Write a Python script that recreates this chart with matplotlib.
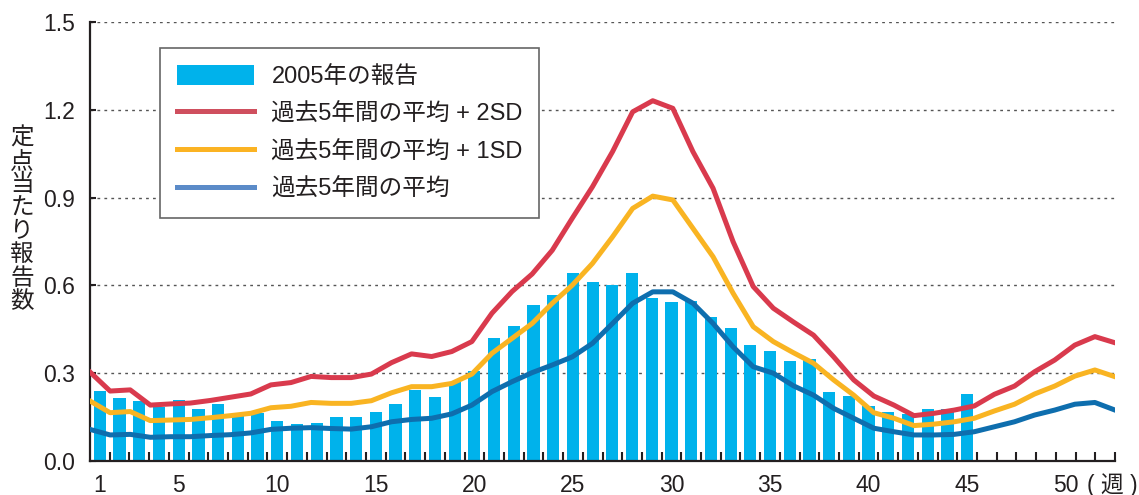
import matplotlib
matplotlib.use('Agg')
import matplotlib.pyplot as plt
from matplotlib.patches import Patch
from matplotlib.lines import Line2D
import numpy as np

plt.rcParams['font.family'] = ['Liberation Sans', 'Noto Sans CJK JP']

# ---- data ----
report_weeks = list(range(1, 46))
report_2005 = [0.239, 0.215, 0.205, 0.186, 0.208, 0.178, 0.195, 0.155, 0.165, 0.137,
               0.126, 0.130, 0.150, 0.150, 0.167, 0.195, 0.244, 0.219, 0.270, 0.307,
               0.420, 0.461, 0.533, 0.567, 0.642, 0.611, 0.601, 0.642, 0.557, 0.543,
               0.547, 0.492, 0.454, 0.396, 0.376, 0.342, 0.348, 0.236, 0.223, 0.188,
               0.167, 0.162, 0.178, 0.178, 0.229]

avg_weeks = list(range(1, 53))
avg_plus2sd = [0.304, 0.239, 0.243, 0.191, 0.195, 0.198, 0.207, 0.218, 0.229, 0.260,
               0.268, 0.289, 0.285, 0.285, 0.297, 0.336, 0.366, 0.357, 0.374, 0.408,
               0.505, 0.579, 0.639, 0.720, 0.830, 0.937, 1.057, 1.193, 1.231, 1.205,
               1.057, 0.932, 0.749, 0.596, 0.522, 0.475, 0.430, 0.356, 0.277, 0.222,
               0.191, 0.155, 0.163, 0.174, 0.188, 0.228, 0.256, 0.305, 0.345, 0.396,
               0.425, 0.404]
avg_plus1sd = [0.205, 0.165, 0.169, 0.138, 0.140, 0.142, 0.148, 0.155, 0.163, 0.182,
               0.187, 0.200, 0.197, 0.197, 0.206, 0.233, 0.254, 0.254, 0.265, 0.297,
               0.368, 0.419, 0.470, 0.539, 0.601, 0.675, 0.766, 0.863, 0.905, 0.892,
               0.795, 0.698, 0.573, 0.459, 0.408, 0.370, 0.334, 0.277, 0.225, 0.165,
               0.146, 0.121, 0.126, 0.134, 0.146, 0.171, 0.194, 0.229, 0.256, 0.290,
               0.311, 0.288]
avg_5yr = [0.108, 0.089, 0.091, 0.081, 0.083, 0.083, 0.087, 0.090, 0.096, 0.108,
           0.112, 0.114, 0.111, 0.109, 0.117, 0.134, 0.142, 0.146, 0.161, 0.191,
           0.237, 0.271, 0.302, 0.328, 0.356, 0.402, 0.470, 0.539, 0.578, 0.578,
           0.539, 0.470, 0.390, 0.322, 0.300, 0.257, 0.225, 0.180, 0.146, 0.112,
           0.100, 0.089, 0.089, 0.091, 0.100, 0.117, 0.134, 0.157, 0.174, 0.194,
           0.200, 0.174]

ytick_values = [0.0, 0.3, 0.6, 0.9, 1.2, 1.5]
xtick_weeks = [1, 5, 10, 15, 20, 25, 30, 35, 40, 45, 50]
legend_labels = ['2005年の報告', '過去5年間の平均 + 2SD', '過去5年間の平均 + 1SD', '過去5年間の平均']
y_label = '定点当たり報告数'
x_unit = '( 週 )'

# ---- style ----
c_bar = '#00B2EB'
c_red = '#D93A4D'
c_org = '#F9B422'
c_blu = '#0E6EAE'
c_txt = '#231F20'
fs_tick = 16.5
fs_leg = 17

fig = plt.figure(figsize=(11.39, 4.95), dpi=100)
ax = fig.add_axes([90 / 1139, 1 - 461 / 495, 1025 / 1139, 439 / 495])

ax.bar(report_weeks, report_2005, width=0.62, color=c_bar, zorder=2)

# line series span the full plot width (52 points)
x_line = 0.5 + (np.array(avg_weeks) - 1) * 52 / 51
ax.plot(x_line, avg_plus2sd, color=c_red, lw=3.6, zorder=3)
ax.plot(x_line, avg_plus1sd, color=c_org, lw=3.6, zorder=3)
ax.plot(x_line, avg_5yr, color=c_blu, lw=3.6, zorder=3)

ax.set_xlim(0.5, 52.5)
ax.set_ylim(0, 1.5)

ax.set_xticks(xtick_weeks)
ax.set_xticklabels([str(w) for w in xtick_weeks])
ax.set_xticks(np.arange(1.5, 53.0, 1.0), minor=True)
ax.tick_params(axis='x', which='major', length=0, pad=9, labelsize=fs_tick, labelcolor=c_txt)
ax.tick_params(axis='x', which='minor', direction='in', length=6.5, width=1.5, color=c_txt)

ax.set_yticks(ytick_values)
ax.set_yticklabels([f'{v:.1f}' for v in ytick_values])
ax.tick_params(axis='y', direction='in', length=4.5, width=1.5, pad=11, labelsize=fs_tick,
               color=c_txt, labelcolor=c_txt)

ax.yaxis.grid(True, linestyle=(0, (2, 3)), color='#555555', lw=1.0)
ax.set_axisbelow(True)

for s in ['top', 'right']:
    ax.spines[s].set_visible(False)
for s in ['left', 'bottom']:
    ax.spines[s].set_linewidth(1.6)
    ax.spines[s].set_color(c_txt)

fig.text(22 / 1139, 1 - 220 / 495, '\n'.join(y_label), ha='center', va='center',
         fontsize=17, linespacing=1.08, color=c_txt)

ax.annotate(x_unit, xy=(51.1, 0), xycoords=('data', 'axes fraction'), xytext=(0, -9),
            textcoords='offset points', ha='left', va='top', fontsize=fs_tick, color=c_txt)

handles = [Patch(facecolor=c_bar, edgecolor='none'),
           Line2D([], [], color='#CF4F5E', lw=3.6),
           Line2D([], [], color='#FBB323', lw=3.6),
           Line2D([], [], color='#5B8BC8', lw=3.6)]
leg = ax.legend(handles, legend_labels, loc='upper left',
                bbox_to_anchor=((160 - 90) / 1025, (461 - 48) / 439), borderaxespad=0,
                prop={'size': fs_leg}, handlelength=3.3, handleheight=0.93, handletextpad=0.72,
                borderpad=0.7, labelspacing=0.62, frameon=True, fancybox=False,
                edgecolor='#666666', framealpha=1)
leg.get_frame().set_linewidth(1.2)
for t in leg.get_texts():
    t.set_color(c_txt)

fig.savefig('out.png', dpi=100)
